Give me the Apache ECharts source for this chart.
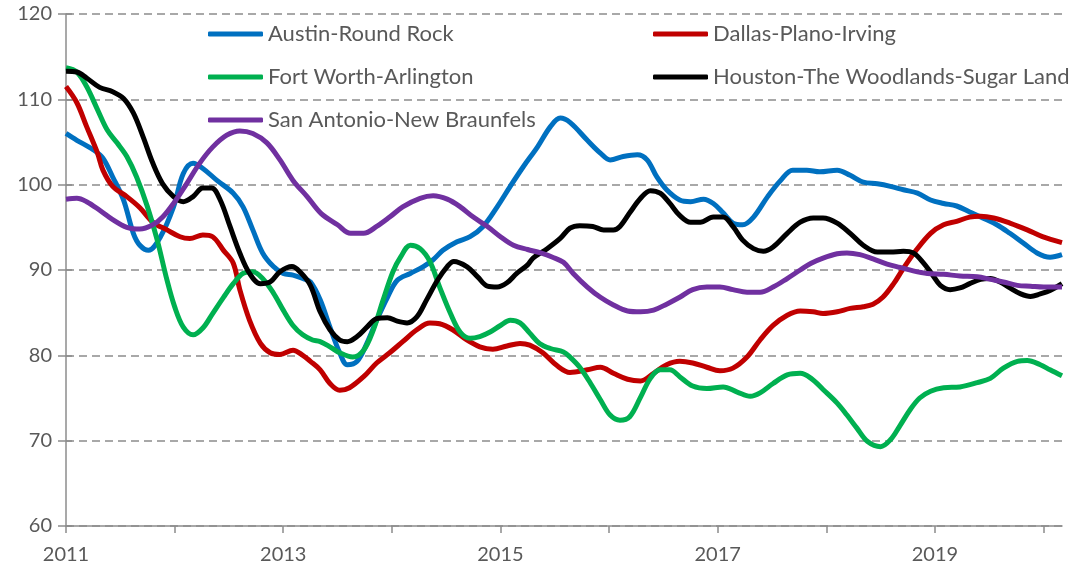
<!DOCTYPE html>
<html>
<head>
<meta charset="utf-8">
<script src="https://cdn.jsdelivr.net/npm/echarts@6/dist/echarts.min.js"></script>
<style>
  html, body { margin: 0; padding: 0; background: #fff; }
  #chart { width: 1076px; height: 571px; }
</style>
</head>
<body>
<div id="chart"></div>
<script>
// [year, index] pairs
const austin = [
  [2011.00,106.0],[2011.10,105.2],[2011.25,104.1],[2011.34,103.1],[2011.43,100.9],[2011.53,98.2],
  [2011.62,94.3],[2011.68,92.9],[2011.76,92.3],[2011.87,93.9],[2011.99,97.4],[2012.08,101.3],
  [2012.17,102.5],[2012.26,101.9],[2012.39,100.5],[2012.54,99.0],[2012.63,97.4],[2012.72,94.7],
  [2012.81,92.0],[2012.91,90.4],[2013.00,89.6],[2013.09,89.4],[2013.18,89.0],[2013.25,88.6],
  [2013.34,86.5],[2013.43,83.3],[2013.52,80.3],[2013.59,78.9],[2013.68,79.3],[2013.77,81.4],
  [2013.86,84.1],[2013.96,86.8],[2014.05,88.8],[2014.17,89.6],[2014.29,90.4],[2014.38,91.2],
  [2014.47,92.3],[2014.60,93.3],[2014.72,93.9],[2014.84,95.1],[2014.97,97.4],[2015.09,99.8],
  [2015.21,102.1],[2015.34,104.4],[2015.46,106.8],[2015.55,107.8],[2015.64,107.3],[2015.80,105.2],
  [2015.92,103.7],[2016.01,102.9],[2016.13,103.3],[2016.26,103.5],[2016.35,102.9],[2016.44,100.9],
  [2016.53,99.4],[2016.65,98.2],[2016.75,98.0],[2016.87,98.3],[2016.96,97.8],[2017.05,96.7],
  [2017.14,95.5],[2017.23,95.3],[2017.33,96.2],[2017.46,98.6],[2017.58,100.5],[2017.69,101.7],
  [2017.82,101.7],[2017.94,101.5],[2018.10,101.7],[2018.22,101.1],[2018.34,100.3],[2018.47,100.1],
  [2018.59,99.8],[2018.71,99.4],[2018.84,99.0],[2018.96,98.2],[2019.08,97.8],[2019.20,97.5],
  [2019.32,96.8],[2019.44,96.1],[2019.57,95.3],[2019.69,94.3],[2019.81,93.2],[2019.94,92.0],
  [2020.06,91.5],[2020.17,91.8]
];
const dallas = [
  [2011.00,111.5],[2011.10,109.6],[2011.19,106.8],[2011.29,103.7],[2011.34,101.7],[2011.43,99.8],
  [2011.56,98.6],[2011.68,97.3],[2011.80,95.6],[2011.93,94.7],[2012.05,93.9],[2012.14,93.7],
  [2012.26,94.1],[2012.35,93.9],[2012.45,92.3],[2012.54,90.8],[2012.60,87.7],[2012.69,84.1],
  [2012.79,81.4],[2012.88,80.3],[2012.97,80.1],[2013.09,80.6],[2013.18,80.0],[2013.25,79.3],
  [2013.34,78.3],[2013.43,76.7],[2013.52,75.9],[2013.61,76.2],[2013.74,77.5],[2013.86,79.1],
  [2013.98,80.3],[2014.10,81.6],[2014.23,83.0],[2014.35,83.8],[2014.44,83.7],[2014.56,83.0],
  [2014.69,81.8],[2014.81,81.0],[2014.93,80.7],[2015.06,81.1],[2015.18,81.4],[2015.27,81.2],
  [2015.39,80.3],[2015.52,78.8],[2015.64,78.0],[2015.80,78.3],[2015.92,78.6],[2016.04,77.9],
  [2016.17,77.2],[2016.29,77.0],[2016.41,77.9],[2016.53,78.9],[2016.65,79.3],[2016.77,79.1],
  [2016.90,78.6],[2017.02,78.2],[2017.14,78.5],[2017.27,79.8],[2017.39,81.8],[2017.51,83.5],
  [2017.64,84.7],[2017.76,85.2],[2017.88,85.1],[2017.97,84.9],[2018.10,85.1],[2018.22,85.5],
  [2018.34,85.7],[2018.43,86.0],[2018.52,86.8],[2018.62,88.4],[2018.71,90.2],[2018.82,92.2],
  [2018.96,94.3],[2019.08,95.3],[2019.20,95.7],[2019.32,96.2],[2019.42,96.3],[2019.54,96.1],
  [2019.69,95.5],[2019.85,94.7],[2019.99,93.9],[2020.17,93.2]
];
const fortWorth = [
  [2011.00,113.7],[2011.10,113.2],[2011.19,111.5],[2011.29,108.8],[2011.38,106.4],[2011.47,104.9],
  [2011.56,103.3],[2011.65,100.9],[2011.75,97.4],[2011.84,93.5],[2011.93,88.8],[2012.00,85.7],
  [2012.08,83.3],[2012.17,82.4],[2012.26,83.2],[2012.35,84.9],[2012.45,86.8],[2012.54,88.4],
  [2012.63,89.6],[2012.72,89.8],[2012.81,89.0],[2012.91,87.3],[2013.00,85.3],[2013.09,83.5],
  [2013.18,82.4],[2013.27,81.8],[2013.34,81.6],[2013.43,81.0],[2013.52,80.3],[2013.64,79.8],
  [2013.74,80.6],[2013.83,83.0],[2013.92,86.5],[2014.01,89.8],[2014.08,91.5],[2014.17,92.9],
  [2014.26,92.5],[2014.35,91.0],[2014.44,88.0],[2014.54,84.9],[2014.63,82.7],[2014.72,82.0],
  [2014.81,82.2],[2014.90,82.7],[2015.00,83.5],[2015.09,84.1],[2015.18,83.8],[2015.27,82.6],
  [2015.36,81.4],[2015.46,80.8],[2015.58,80.4],[2015.64,79.8],[2015.73,78.6],[2015.83,76.7],
  [2015.92,74.8],[2016.01,73.0],[2016.10,72.4],[2016.19,72.8],[2016.29,75.1],[2016.38,77.3],
  [2016.47,78.3],[2016.56,78.3],[2016.65,77.5],[2016.77,76.4],[2016.90,76.1],[2017.05,76.3],
  [2017.18,75.7],[2017.30,75.2],[2017.39,75.6],[2017.51,76.7],[2017.64,77.7],[2017.76,77.9],
  [2017.86,77.3],[2017.97,76.0],[2018.10,74.4],[2018.19,73.0],[2018.28,71.5],[2018.38,69.9],
  [2018.50,69.3],[2018.59,70.1],[2018.68,71.8],[2018.77,73.6],[2018.86,75.0],[2018.96,75.8],
  [2019.08,76.2],[2019.23,76.3],[2019.39,76.8],[2019.51,77.3],[2019.63,78.5],[2019.76,79.3],
  [2019.85,79.4],[2019.97,78.9],[2020.06,78.3],[2020.17,77.6]
];
const houston = [
  [2011.00,113.3],[2011.10,113.2],[2011.19,112.5],[2011.31,111.4],[2011.43,110.9],[2011.53,110.1],
  [2011.62,108.4],[2011.71,105.6],[2011.80,102.5],[2011.89,100.1],[2011.99,98.6],[2012.08,98.0],
  [2012.17,98.6],[2012.26,99.6],[2012.34,99.6],[2012.42,98.2],[2012.51,95.1],[2012.60,92.0],
  [2012.69,89.6],[2012.79,88.4],[2012.88,88.6],[2012.97,89.8],[2013.08,90.4],[2013.16,89.7],
  [2013.25,88.2],[2013.34,85.1],[2013.43,83.0],[2013.52,81.8],[2013.59,81.6],[2013.68,82.2],
  [2013.77,83.3],[2013.86,84.3],[2013.96,84.4],[2014.05,84.0],[2014.14,83.8],[2014.23,84.5],
  [2014.32,86.5],[2014.42,88.8],[2014.51,90.4],[2014.57,91.0],[2014.69,90.4],[2014.79,89.2],
  [2014.88,88.1],[2014.97,88.0],[2015.06,88.5],[2015.15,89.6],[2015.25,90.6],[2015.30,91.4],
  [2015.43,92.5],[2015.55,93.7],[2015.64,94.9],[2015.73,95.2],[2015.85,95.1],[2015.95,94.7],
  [2016.04,94.7],[2016.10,95.1],[2016.19,96.7],[2016.29,98.4],[2016.38,99.3],[2016.47,99.0],
  [2016.56,97.8],[2016.65,96.4],[2016.75,95.6],[2016.84,95.6],[2016.96,96.2],[2017.05,96.2],
  [2017.14,95.1],[2017.23,93.5],[2017.33,92.5],[2017.42,92.2],[2017.51,92.7],[2017.64,94.3],
  [2017.76,95.6],[2017.88,96.1],[2017.97,96.1],[2018.10,95.5],[2018.22,94.3],[2018.34,92.9],
  [2018.47,92.1],[2018.59,92.1],[2018.71,92.2],[2018.80,92.0],[2018.89,90.9],[2018.98,89.4],
  [2019.05,88.2],[2019.14,87.7],[2019.23,87.9],[2019.32,88.4],[2019.42,88.9],[2019.51,89.0],
  [2019.60,88.6],[2019.69,87.9],[2019.79,87.2],[2019.88,86.9],[2019.97,87.2],[2020.06,87.6],
  [2020.17,88.4]
];
const sanAntonio = [
  [2011.00,98.3],[2011.10,98.4],[2011.19,98.0],[2011.31,97.0],[2011.43,95.9],[2011.56,95.0],
  [2011.68,94.8],[2011.80,95.3],[2011.89,96.2],[2011.99,97.8],[2012.11,100.1],[2012.23,102.5],
  [2012.35,104.4],[2012.48,105.8],[2012.60,106.3],[2012.72,106.0],[2012.85,104.9],[2012.97,102.9],
  [2013.09,100.5],[2013.22,98.6],[2013.35,96.6],[2013.50,95.3],[2013.62,94.3],[2013.74,94.3],
  [2013.86,95.1],[2013.98,96.2],[2014.10,97.4],[2014.26,98.4],[2014.38,98.7],[2014.51,98.3],
  [2014.63,97.4],[2014.75,96.2],[2014.88,95.1],[2015.00,93.9],[2015.12,92.9],[2015.25,92.4],
  [2015.37,92.0],[2015.48,91.5],[2015.58,90.9],[2015.67,89.6],[2015.80,88.0],[2015.92,86.8],
  [2016.04,85.9],[2016.17,85.2],[2016.29,85.1],[2016.41,85.3],[2016.53,86.0],[2016.65,86.8],
  [2016.77,87.7],[2016.90,88.0],[2017.02,88.0],[2017.14,87.7],[2017.27,87.4],[2017.39,87.4],
  [2017.51,88.0],[2017.64,89.0],[2017.76,90.0],[2017.86,90.8],[2017.97,91.4],[2018.10,91.9],
  [2018.19,92.0],[2018.31,91.8],[2018.43,91.3],[2018.56,90.7],[2018.68,90.3],[2018.80,89.9],
  [2018.93,89.6],[2019.08,89.5],[2019.23,89.3],[2019.39,89.2],[2019.51,88.9],[2019.63,88.6],
  [2019.76,88.2],[2019.88,88.1],[2020.00,88.0],[2020.17,88.0]
];

const names = ['Austin-Round Rock', 'Dallas-Plano-Irving', 'Fort Worth-Arlington',
  'Houston-The Woodlands-Sugar Land', 'San Antonio-New Braunfels'];
const colors = ['#0070C0', '#C00000', '#00B050', '#000000', '#7030A0'];
const yearTicks = [2011, 2012, 2013, 2014, 2015, 2016, 2017, 2018, 2019, 2020];
const yearLabels = [2011, 2013, 2015, 2017, 2019];

const FONT = 'Lato';
const TEXT = '#595959';
const AXIS = '#8c8c8c';

let chart = echarts.init(document.getElementById('chart'));

function legendBlock(data, left) {
  return {
    data: data,
    orient: 'vertical',
    left: left,
    top: 22,
    padding: 0,
    itemWidth: 55,
    itemHeight: 5,
    itemGap: 19,
    icon: 'roundRect',
    textStyle: { fontFamily: FONT, fontSize: 22, color: TEXT, lineHeight: 24 }
  };
}

let series = [austin, dallas, fortWorth, houston, sanAntonio].map(function (d, i) {
  return {
    name: names[i],
    type: 'line',
    data: d,
    smooth: 0.35,
    showSymbol: false,
    lineStyle: { width: 5, color: colors[i] },
    itemStyle: { color: colors[i] }
  };
});

let option = {
  animation: false,
  backgroundColor: '#fff',
  legend: [
    legendBlock([names[0], names[2], names[4]], 208),
    legendBlock([names[1], names[3]], 653)
  ],
  grid: { left: 66, right: 14, top: 14, bottom: 45 },
  xAxis: {
    type: 'value',
    min: 2011,
    max: 2020.17,
    axisLine: { lineStyle: { color: AXIS, width: 1.5 } },
    axisTick: { show: true, length: 7, lineStyle: { color: AXIS, width: 1.5 }, customValues: yearTicks },
    axisLabel: {
      fontFamily: FONT, fontSize: 20, color: TEXT, margin: 19, customValues: yearLabels,
      formatter: function (v) { return String(v); }
    },
    splitLine: { show: false }
  },
  yAxis: [
    {
      type: 'value',
      min: 60,
      max: 120,
      interval: 10,
      axisLine: { show: true, lineStyle: { color: AXIS, width: 1.5 } },
      axisTick: { show: true, length: 8, lineStyle: { color: AXIS, width: 1.5 } },
      axisLabel: { fontFamily: FONT, fontSize: 20, color: TEXT, margin: 14 },
      splitLine: { show: true, lineStyle: { color: AXIS, width: 1.5, type: [8, 5] } }
    },
    {
      // second copy only for the inner half of the crossing ticks
      type: 'value',
      position: 'left',
      min: 60,
      max: 120,
      interval: 10,
      axisLine: { show: false },
      axisTick: { show: true, inside: true, length: 6, lineStyle: { color: AXIS, width: 1.5 } },
      axisLabel: { show: false },
      splitLine: { show: false }
    }
  ],
  series: series
};

chart.setOption(option);
</script>
</body>
</html>
